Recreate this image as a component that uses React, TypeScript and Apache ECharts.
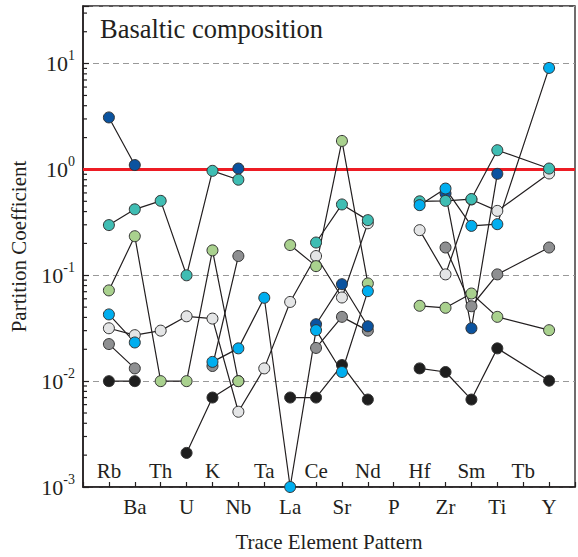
import React, { useEffect, useRef } from "react";
import * as echarts from "echarts";

// Full element order along the x axis (Tb position is labelled but not analysed)
const elements = ["Rb", "Ba", "Th", "U", "K", "Nb", "Ta", "La", "Ce", "Sr", "Nd", "P", "Hf", "Zr", "Sm", "Ti", "Tb", "Y"];
// Elements for which values are listed (null = not determined, breaks the line)
const measured = ["Rb", "Ba", "Th", "U", "K", "Nb", "Ta", "La", "Ce", "Sr", "Nd", "P", "Hf", "Zr", "Sm", "Ti", "Y"];

const blackValues = [0.01, 0.01, null, 0.0021, 0.007, 0.01, null, 0.007, 0.007, 0.0142, 0.0067, null, 0.0132, 0.0122, 0.0067, 0.0204, 0.0101];
const lightGrayValues = [0.0316, 0.0272, 0.03, 0.041, 0.039, 0.00514, 0.0132, 0.056, 0.152, 0.0617, 0.31, null, 0.267, 0.102, 0.52, 0.406, 0.916];
const grayValues = [0.0224, 0.0132, null, null, 0.0139, 0.152, null, null, 0.0206, 0.0405, 0.03, null, null, 0.183, 0.051, 0.102, 0.183];
const darkBlueValues = [3.1, 1.1, null, null, null, 1.02, null, null, 0.0345, 0.0824, 0.033, null, null, 0.593, 0.0316, 0.909, null];
const tealValues = [0.298, 0.42, 0.505, 0.1, 0.97, 0.8, null, null, 0.204, 0.467, 0.332, null, 0.5, 0.505, 0.525, 1.52, 1.02];
const greenValues = [0.072, 0.234, 0.01, 0.01, 0.172, 0.01, null, 0.193, 0.122, 1.86, 0.0838, null, 0.0515, 0.0493, 0.0673, 0.0405, 0.0303];
const cyanValues = [0.0427, 0.0232, null, null, 0.0152, 0.0204, 0.0613, 0.001, 0.0303, 0.0122, 0.0708, null, 0.46, 0.66, 0.293, 0.304, 9.1];

const yMin = 0.001;
const yMax = 35;
const unity = 1;

const FONT = "'Liberation Serif', 'Times New Roman', serif";
const INK = "#231F20";

const groups = [
  { name: "black", color: "#1E1E1E", values: blackValues },
  { name: "lightgray", color: "#E4E5E6", values: lightGrayValues },
  { name: "gray", color: "#8E8F91", values: grayValues },
  { name: "darkblue", color: "#0B539F", values: darkBlueValues },
  { name: "teal", color: "#3FBDB3", values: tealValues },
  { name: "green", color: "#A9D18E", values: greenValues },
  { name: "cyan", color: "#00AEEF", values: cyanValues },
];

export default function App() {
  const ref = useRef<HTMLDivElement>(null);

  useEffect(() => {
    if (!ref.current) return;
    const chart = echarts.init(ref.current, null, { renderer: "svg" });

    const series: any[] = [];
    groups.forEach((g, gi) => {
      const pts = measured.map((el, i) => [elements.indexOf(el), g.values[i]]);
      series.push({
        type: "line",
        name: g.name + "-line",
        data: pts,
        showSymbol: false,
        symbol: "none",
        connectNulls: false,
        lineStyle: { color: INK, width: 1.2 },
        z: 3,
        silent: true,
        ...(gi === 0
          ? {
              markLine: {
                silent: true,
                symbol: "none",
                label: { show: false },
                lineStyle: { color: "#ED1C24", width: 3, type: "solid" },
                data: [{ yAxis: unity }],
                z: 2,
              },
            }
          : {}),
      });
      series.push({
        type: "scatter",
        name: g.name,
        data: pts.filter((p) => p[1] !== null),
        symbol: "circle",
        symbolSize: 11,
        itemStyle: { color: g.color, borderColor: "#333", borderWidth: 1, opacity: 1 },
        z: 10 + gi,
        clip: false,
      });
    });

    // minor ticks of the log axis (2..9 within each decade), drawn inward from the y axis
    const minor: number[][] = [];
    for (let e = -3; e <= 1; e++) {
      for (let k = 2; k <= 9; k++) {
        const v = k * Math.pow(10, e);
        if (v < yMax) minor.push([-1, v]);
      }
    }
    series.push({
      type: "scatter",
      name: "minorTicks",
      data: minor,
      symbol: "rect",
      symbolSize: [4, 1.2],
      symbolOffset: [2, 0],
      itemStyle: { color: INK, opacity: 1 },
      z: 6,
      clip: false,
      silent: true,
    });

    const labelFmt = (parity: number) => (v: number) => {
      const i = Math.round(v);
      if (i < 0 || i >= elements.length) return "";
      return i % 2 === parity ? elements[i] : "";
    };

    chart.setOption({
      animation: false,
      backgroundColor: "#ffffff",
      grid: {
        left: 83,
        top: 6,
        width: 498,
        height: 481,
        show: true,
        borderColor: INK,
        borderWidth: 1.3,
        backgroundColor: "transparent",
      },
      graphic: [
        {
          type: "text",
          x: 100,
          y: 29,
          style: {
            text: "Basaltic composition",
            fontFamily: FONT,
            fontSize: 26.5,
            fill: INK,
            verticalAlign: "middle",
          },
        },
      ],
      xAxis: [
        {
          type: "value",
          min: -1,
          max: 18,
          interval: 1,
          position: "bottom",
          axisLine: { onZero: false, lineStyle: { color: INK, width: 1.6 } },
          axisTick: { inside: true, length: 5, lineStyle: { color: INK, width: 1.2 } },
          axisLabel: {
            formatter: labelFmt(1),
            margin: 9,
            fontFamily: FONT,
            fontSize: 21,
            color: INK,
          },
          splitLine: { show: false },
          name: "Trace Element Pattern",
          nameLocation: "middle",
          nameGap: 44,
          nameTextStyle: { fontFamily: FONT, fontSize: 21, color: INK },
        },
        {
          type: "value",
          min: -1,
          max: 18,
          interval: 1,
          position: "bottom",
          axisLine: { show: false, onZero: false },
          axisTick: { show: false },
          axisLabel: {
            inside: true,
            formatter: labelFmt(0),
            margin: 6,
            fontFamily: FONT,
            fontSize: 21,
            color: INK,
          },
          splitLine: { show: false },
        },
      ],
      yAxis: {
        type: "log",
        logBase: 10,
        min: yMin,
        max: yMax,
        axisLine: { show: true, onZero: false, lineStyle: { color: INK, width: 1.6 } },
        axisTick: { inside: true, length: 6, lineStyle: { color: INK, width: 1.2 } },
        axisLabel: {
          margin: 8,
          formatter: (v: number) => {
            const e = Math.log10(v);
            const r = Math.round(e);
            if (Math.abs(e - r) > 1e-6) return "";
            return "{b|10}{s|" + r + "}";
          },
          rich: {
            b: { fontFamily: FONT, fontSize: 22, lineHeight: 30, color: INK },
            s: { fontFamily: FONT, fontSize: 14, lineHeight: 14, verticalAlign: "top", color: INK },
          },
        },
        splitLine: { show: true, lineStyle: { color: "#999", width: 1, type: [6, 4] } },
        name: "Partition Coefficient",
        nameLocation: "middle",
        nameGap: 54,
        nameTextStyle: { fontFamily: FONT, fontSize: 21, color: INK },
      },
      series,
    });

    return () => chart.dispose();
  }, []);

  return (
    <div
      ref={ref}
      style={{ position: "fixed", left: 0, top: 0, width: 578, height: 557, background: "#fff" }}
    />
  );
}
